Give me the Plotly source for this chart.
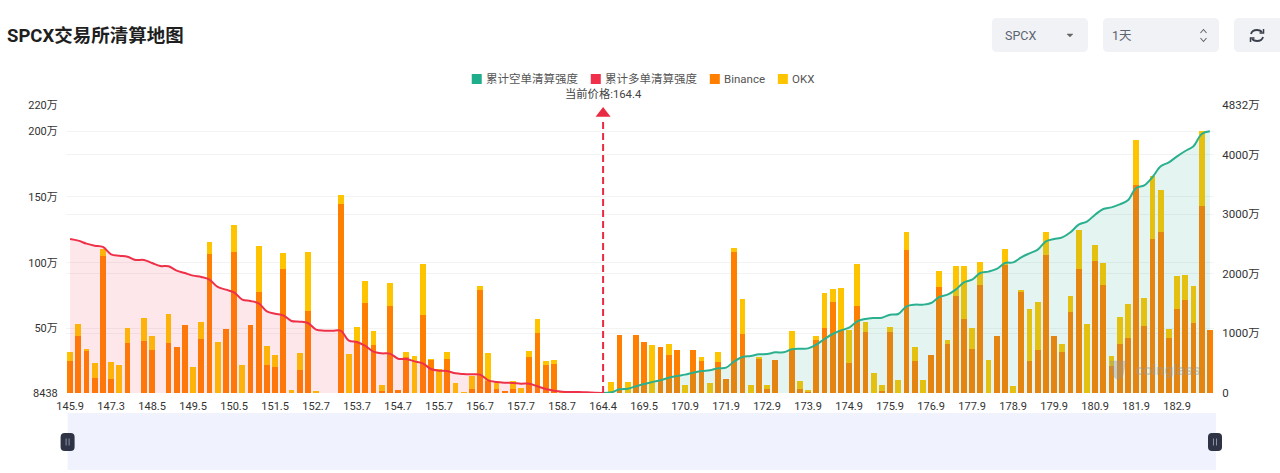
import plotly.graph_objects as go

# Liquidation volume per price bin (unit: 10k), stacked by exchange
binance = [25, 44, 33, 12, 105.4, 11.5, 0, 38.8, 0, 40.3, 33.7, 0, 39, 36, 52.3, 0, 41.8, 106.6, 0, 49.5,
           108, 0, 52.3, 77.5, 22, 21, 95, 0, 18.6, 63.3, 0, 0, 0, 145, 0, 39.3, 69.4, 37.2, 2.3, 66.8,
           2.8, 28, 0, 60.5, 26, 0, 27, 0, 0, 3.8, 79.3, 10, 3.6, 2.3, 4, 0, 28.3, 46.2, 22.5, 22.7,
           0, 0, 0, 0, 0, 0, 0, 45, 0, 45, 39.8, 0, 36.2, 30, 33.7, 0, 33.7, 25.5, 0, 24.2,
           11.5, 108.4, 46, 0, 26.8, 3.8, 26, 0, 34, 3.8, 2, 41.3, 50.3, 70, 49, 23.5, 67, 47.2, 0, 2.5,
           47.2, 0, 110, 25.3, 0, 29.8, 81.6, 38.3, 74.7, 57, 34, 82.9, 0, 44.6, 98.2, 0, 78.3, 25, 33.7, 105.9,
           44.1, 31.9, 62.5, 94.9, 0, 101.3, 82.9, 21.7, 38.3, 42.6, 159.4, 52, 118.4, 123.5, 42.6, 64.5, 71.9, 54.3, 143, 48.7]
okx = [7, 9.6, 0.7, 12, 5.1, 13, 22.4, 11.2, 0.8, 17.7, 10.9, 1, 22.2, 0, 0, 21, 13, 9.2, 39.3, 0,
       20.6, 22, 0, 35.3, 14.7, 9, 12.6, 3.3, 12.8, 44.9, 2.5, 1.2, 1.2, 6.5, 30.4, 12, 16.6, 10.5, 4.7, 17.9,
       0, 4.4, 29, 38.8, 0.7, 19, 5.4, 8.4, 1.8, 10, 2.6, 21.4, 5.1, 0, 6, 4.3, 4.4, 11, 3, 3.1,
       2.3, 0.5, 0.3, 0.3, 0.3, 0, 8.9, 0, 9.4, 0, 0, 37, 0, 7.8, 0, 6.9, 0, 3.1, 8.2, 8.2,
       0, 3.1, 26.7, 7.1, 0.8, 2.8, 0, 1, 13.7, 6.2, 0.8, 2.6, 26.7, 10, 31.4, 25, 32, 7.6, 16, 4.1,
       3.6, 10.5, 13, 10.2, 11, 0, 12, 3, 22.5, 40.4, 16.3, 17.9, 26, 0, 12.3, 6.4, 0.7, 40, 36.7, 17.6,
       0, 5.9, 12.2, 29.8, 53.6, 12.5, 16.8, 7.1, 20.1, 25.8, 34.2, 21, 47.6, 32.1, 6.6, 25.3, 18.7, 27.7, 57.5, 0]

# Cumulative liquidation intensity on the right axis (unit: 10k)
long_cumulative = [2584, 2556, 2506, 2472, 2450, 2327, 2304, 2287, 2232, 2232, 2181, 2131, 2125, 2053, 2013, 1969, 1946, 1902, 1779, 1734,
                   1689, 1566, 1544, 1505, 1370, 1331, 1303, 1208, 1197, 1175, 1063, 1046, 1046, 1046, 878, 856, 789, 694, 666, 660,
                   576, 570, 531, 498, 403, 375, 369, 330, 319, 313, 308, 213, 185, 173, 168, 157, 157, 112, 67, 39,
                   22, 17, 17, 11, 6, 0]
short_cumulative = [0, 11, 62, 73, 112, 151, 185, 213, 257, 285, 308, 341, 369, 380, 414, 425, 531, 604, 621, 649,
                    654, 682, 682, 733, 744, 749, 811, 906, 990, 1051, 1096, 1202, 1242, 1258, 1264, 1314, 1325, 1454, 1482, 1482,
                    1510, 1611, 1650, 1734, 1857, 1902, 2013, 2036, 2081, 2181, 2192, 2276, 2343, 2405, 2545, 2584, 2612, 2696, 2825, 2875,
                    2992, 3087, 3115, 3166, 3233, 3440, 3484, 3624, 3803, 3870, 3971, 4060, 4139, 4346, 4390]

price_labels = ["145.9", "147.3", "148.5", "149.5", "150.5", "151.5", "152.7", "153.7", "154.7", "155.7",
                "156.7", "157.7", "158.7", "164.4", "169.5", "170.9", "171.9", "172.9", "173.9", "174.9",
                "175.9", "176.9", "177.9", "178.9", "179.9", "180.9", "181.9", "182.9"]
left_ticks = [0.8438, 50, 100, 150, 200, 220]
left_labels = ["8438", "50万", "100万", "150万", "200万", "220万"]
right_ticks = [0, 1000, 2000, 3000, 4000, 4832]
right_labels = ["0", "1000万", "2000万", "3000万", "4000万", "4832万"]
legend_names = ["累计空单清算强度", "累计多单清算强度", "Binance", "OKX"]
legend_colors = ["#1fae8c", "#f0304a", "#ff8000", "#ffc400"]
current_bin = 65
current_price = "164.4"

W, H = 1280, 473
L, R, T, B = 66.4, 1214.0, 105.0, 393.0
FONT = "Roboto, 'Noto Sans CJK SC', sans-serif"


def px(x):
    return (x - L) / (R - L)


def py(y):
    return (B - y) / (B - T)


bins = list(range(len(binance)))
fig = go.Figure()
fig.add_bar(x=bins, y=binance, name="Binance", marker=dict(color="#ff8000", line_width=0), yaxis="y")
fig.add_bar(x=bins, y=okx, name="OKX", marker=dict(color="#ffc400", line_width=0), yaxis="y")
fig.add_scatter(x=bins[:len(long_cumulative)], y=long_cumulative, name="累计多单清算强度", mode="lines", yaxis="y2",
                line=dict(color="#ee3048", width=2, shape="spline", smoothing=1.0),
                fill="tozeroy", fillcolor="rgba(240,60,80,0.12)")
fig.add_scatter(x=bins[current_bin:], y=short_cumulative, name="累计空单清算强度", mode="lines", yaxis="y2",
                line=dict(color="#2bb08f", width=2, shape="spline", smoothing=1.0),
                fill="tozeroy", fillcolor="rgba(30,170,140,0.12)")
# Dashed marker for the current price, with an arrow head at its top
fig.add_scatter(x=[current_bin, current_bin], y=[0, 4560], mode="lines", yaxis="y2", cliponaxis=False,
                line=dict(color="#ea2a42", width=2, dash="7px,4px"))
fig.add_scatter(x=[current_bin], y=[4690], mode="markers", yaxis="y2", cliponaxis=False,
                marker=dict(symbol="triangle-up", size=13, color="#ea2a42", line_width=0))

shapes = []
annotations = []


def rounded(x0, y0, x1, y1, r, fill):
    path = (f"M{px(x0 + r)},{py(y0)} L{px(x1 - r)},{py(y0)} Q{px(x1)},{py(y0)} {px(x1)},{py(y0 + r)} "
            f"L{px(x1)},{py(y1 - r)} Q{px(x1)},{py(y1)} {px(x1 - r)},{py(y1)} "
            f"L{px(x0 + r)},{py(y1)} Q{px(x0)},{py(y1)} {px(x0)},{py(y1 - r)} "
            f"L{px(x0)},{py(y0 + r)} Q{px(x0)},{py(y0)} {px(x0 + r)},{py(y0)} Z")
    shapes.append(dict(type="path", xref="paper", yref="paper", path=path, fillcolor=fill, line_width=0, layer="below"))


def outline(points, color, width=1.4, fill=None):
    path = "M" + " L".join(f"{px(a)},{py(b)}" for a, b in points)
    if fill:
        path += " Z"
    shapes.append(dict(type="path", xref="paper", yref="paper", path=path,
                       line=dict(color=color, width=width), fillcolor=fill or "rgba(0,0,0,0)"))


def label(x, y, text, size=11, color="#444", anchor="left", **kw):
    annotations.append(dict(x=px(x), y=py(y), xref="paper", yref="paper", text=text, showarrow=False,
                            xanchor=anchor, yanchor="middle", font=dict(size=size, color=color, family=FONT), **kw))


# Legend row
legend_x = [472, 591, 710, 778]
for name, color, x0 in zip(legend_names, legend_colors, legend_x):
    shapes.append(dict(type="rect", xref="paper", yref="paper", x0=px(x0), x1=px(x0 + 10), y0=py(84), y1=py(74),
                       fillcolor=color, line_width=0))
    label(x0 + 12.5, 79, name, size=11.5, color="#555")
label(603.5, 94, f"当前价格:{current_price}", size=11.3, color="#444", anchor="center")

# Page header
label(5.5, 36, "<b>SPCX交易所清算地图</b>", size=18.5, color="#1f1f1f")
rounded(992, 18, 1088, 52, 5, "#f0f2f5")
rounded(1103, 18, 1219, 52, 5, "#f0f2f5")
rounded(1234, 18, 1290, 52, 5, "#f0f2f5")
label(1003, 35, "SPCX", size=12.5, color="#5c6470")
label(1110, 35, "1天", size=12.5, color="#5c6470")
outline([(1067, 34), (1073, 34), (1070, 37)], "#666", width=0.5, fill="#666")
outline([(1200.5, 33), (1203.5, 29.5), (1206.5, 33)], "#666", width=1.1)
outline([(1200.5, 38), (1203.5, 41.5), (1206.5, 38)], "#666", width=1.1)
# Refresh icon
shapes.append(dict(type="path", xref="paper", yref="paper",
                   path=f"M{px(1251)},{py(34)} Q{px(1252)},{py(30)} {px(1257)},{py(30)} Q{px(1260)},{py(30)} {px(1262)},{py(32)}",
                   line=dict(color="#3a3f4a", width=1.8)))
shapes.append(dict(type="path", xref="paper", yref="paper",
                   path=f"M{px(1263)},{py(37)} Q{px(1262)},{py(41)} {px(1257)},{py(41)} Q{px(1254)},{py(41)} {px(1252)},{py(39)}",
                   line=dict(color="#3a3f4a", width=1.8)))
outline([(1263.5, 29), (1263.5, 33), (1259.5, 33)], "#3a3f4a", width=1.5)
outline([(1250.5, 42), (1250.5, 38), (1254.5, 38)], "#3a3f4a", width=1.5)

# Range selector strip and its handles
shapes.append(dict(type="rect", xref="paper", yref="paper", x0=px(68), x1=px(1216), y0=py(413), y1=py(470),
                   fillcolor="#f0f3fd", line_width=0, layer="below"))
for cx in (68, 1215):
    rounded(cx - 7, 433, cx + 7, 451, 4, "#2e3345")
    shapes[-1]["layer"] = "above"
    for dx in (-1.5, 1.5):
        shapes.append(dict(type="line", xref="paper", yref="paper", x0=px(cx + dx), x1=px(cx + dx),
                           y0=py(438.5), y1=py(445.5), line=dict(color="#8d93a5", width=1)))

# Faint brand mark inside the plot
label(1134, 370, "<b>coinglass</b>", size=15, color="#9a9a9a", opacity=0.45)
outline([(1110, 361), (1126, 361), (1123, 376), (1118, 380), (1113, 376)], "rgba(150,150,150,0.4)", width=0.5,
        fill="rgba(150,150,150,0.4)")

fig.update_layout(
    width=W, height=H, autosize=False, showlegend=False, barmode="stack", bargap=0.27,
    margin=dict(l=L, r=W - R, t=T, b=H - B, pad=0),
    paper_bgcolor="white", plot_bgcolor="white",
    font=dict(family=FONT, size=11, color="#333"),
    xaxis=dict(range=[-0.5, len(binance) - 0.5], tickmode="array", tickvals=bins[::5], ticktext=price_labels,
               showgrid=False, zeroline=False, showline=False, ticks="outside", ticklen=3, tickcolor="rgba(0,0,0,0)",
               tickfont=dict(size=11, color="#333"), tickangle=0),
    yaxis=dict(range=[left_ticks[0], left_ticks[-1]], tickmode="array", tickvals=left_ticks, ticktext=left_labels,
               showgrid=True, gridcolor="#f3f3f3", gridwidth=1, zeroline=False, showline=False,
               ticks="outside", ticklen=5, tickcolor="rgba(0,0,0,0)", tickfont=dict(size=11, color="#333")),
    yaxis2=dict(range=[0, right_ticks[-1]], overlaying="y", side="right", tickmode="array", tickvals=right_ticks,
                ticktext=right_labels, showgrid=True, gridcolor="#f3f3f3", gridwidth=1, zeroline=False, showline=False,
                ticks="outside", ticklen=5, tickcolor="rgba(0,0,0,0)", tickfont=dict(size=11.5, color="#333")),
    shapes=shapes, annotations=annotations,
)
fig.write_html("out.html")
